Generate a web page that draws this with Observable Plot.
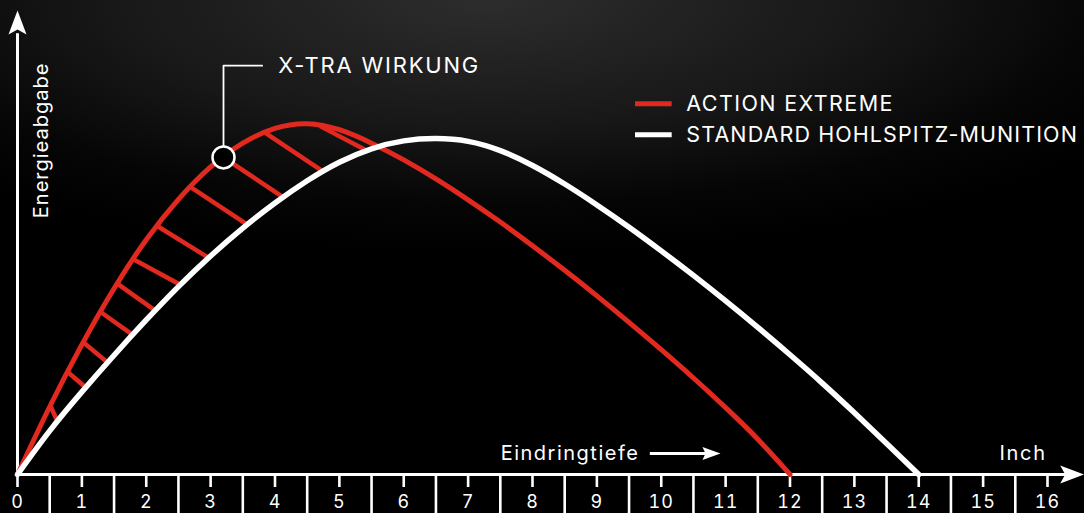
<!DOCTYPE html>
<html>
<head>
<meta charset="utf-8">
<script src="https://cdn.jsdelivr.net/npm/d3@7"></script>
<script src="https://cdn.jsdelivr.net/npm/@observablehq/plot@0.6"></script>
<style>
  html, body { margin: 0; padding: 0; background: #000; }
  #chart {
    width: 1084px; height: 513px; overflow: hidden;
    background: radial-gradient(ellipse 72% 50% at 45% 0%, #2d2d2d 0%, #171717 50%, #050505 80%, #000 100%);
  }
  #chart svg { display: block; overflow: visible; }
</style>
</head>
<body>
<div id="chart"></div>
<script>
// ---- data (penetration depth in inch, relative energy release) ----
const depthRed = [0, 0.5, 1, 1.5, 2, 2.5, 3, 3.5, 4, 4.5, 5, 5.5, 6, 6.5, 7, 7.5, 8, 8.5, 9, 9.5, 10, 10.5, 11, 11.5, 12];
const actionExtreme = [0, 14.6, 28.0, 40.1, 50.6, 59.3, 66.3, 71.4, 74.6, 75.6, 74.3, 71.4, 67.8, 63.7, 59.2, 54.4, 49.3, 44.0, 38.5, 32.8, 26.9, 20.8, 14.4, 7.6, 0];
const depthWhite = [0, 0.5, 1, 1.5, 2, 2.5, 3, 3.5, 4, 4.5, 5, 5.5, 6, 6.5, 7, 7.5, 8, 8.5, 9, 9.5, 10, 10.5, 11, 11.5, 12, 12.5, 13, 13.5, 14];
const standardHP = [0, 9.4, 17.8, 25.7, 33.3, 40.5, 47.1, 53.1, 58.5, 63.3, 67.3, 70.2, 71.9, 72.4, 71.8, 69.8, 66.6, 62.6, 58.1, 53.3, 48.2, 42.9, 37.4, 31.7, 25.8, 19.7, 13.3, 6.7, 0];

// hatching between the curves (start depth on red curve, end depth on white curve)
const hatchFrom = [0.51, 0.78, 1.02, 1.29, 1.55, 1.80, 2.17, 2.69, 3.2, 3.85, 4.70];
const hatchTo   = [0.62, 1.06, 1.40, 1.79, 2.14, 2.53, 2.97, 3.57, 4.13, 4.75, 5.43];

const tickLabels = [0, 1, 2, 3, 4, 5, 6, 7, 8, 9, 10, 11, 12, 13, 14, 15, 16];
const minorTicks = [0.5, 1.5, 2.5, 3.5, 4.5, 5.5, 6.5, 7.5, 8.5, 9.5, 10.5, 11.5, 12.5, 13.5, 14.5, 15.5];

const seriesNames = ["ACTION EXTREME", "STANDARD HOHLSPITZ-MUNITION"];
const seriesColors = ["#e2291f", "#ffffff"];
const annotationText = "X-TRA WIRKUNG";
const annotationDepth = 3.2;
const xTitle = "Eindringtiefe";
const unitText = "Inch";
const yTitle = "Energieabgabe";

// ---- helpers ----
function interp(xs, ys, x) {
  for (let i = 0; i < xs.length - 1; i++) {
    if (x >= xs[i] && x <= xs[i + 1]) {
      const t = (x - xs[i]) / (xs[i + 1] - xs[i]);
      return ys[i] + t * (ys[i + 1] - ys[i]);
    }
  }
  return 0;
}
function arrowHead(len, half, notch) {
  return {
    draw(ctx) {
      ctx.moveTo(0, 0);
      ctx.lineTo(half, len);
      ctx.lineTo(0, len - notch);
      ctx.lineTo(-half, len);
      ctx.closePath();
    }
  };
}

const redData = depthRed.map((d, i) => ({depth: d, energy: actionExtreme[i]}));
const whiteData = depthWhite.map((d, i) => ({depth: d, energy: standardHP[i]}));
const hatch = hatchFrom.map((d, i) => ({
  x1: d, y1: interp(depthRed, actionExtreme, d),
  x2: hatchTo[i], y2: interp(depthWhite, standardHP, hatchTo[i])
}));
const annY = interp(depthRed, actionExtreme, annotationDepth);
const leader = [
  {x: annotationDepth, y: annY},
  {x: annotationDepth, y: 88.1},
  {x: 3.80, y: 88.1}
];
const legend = seriesNames.map((name, i) => ({name, color: seriesColors[i], y: [79.9, 73.2][i]}));

const font = "Inter, 'Noto Sans', sans-serif";
const red = seriesColors[0];

const chart = Plot.plot({
  width: 1084,
  height: 513,
  marginLeft: 17,
  marginRight: 37,
  marginTop: 10,
  marginBottom: 39,
  style: {background: "transparent", color: "white", fontFamily: font, overflow: "visible"},
  x: {domain: [0, 16]},
  y: {domain: [0, 100], axis: null},
  marks: [
    // tick labels
    Plot.axisX(tickLabels, {tickSize: 0, tickPadding: 21, fontSize: 18, fontFamily: font, fill: "white", label: null}),
    // ticks
    Plot.ruleX(tickLabels, {x: d => d, y1: 0, y2: -2.8, stroke: "white", strokeWidth: 2.6}),
    Plot.ruleX(minorTicks, {x: d => d, y1: 0, y2: -8.6, stroke: "white", strokeWidth: 2.6}),
    // axes
    Plot.ruleX([0], {y1: 0, y2: 95, stroke: "white", strokeWidth: 3}),
    Plot.ruleY([0], {x1: 0, x2: 16.3, stroke: "white", strokeWidth: 3}),
    Plot.dot([{x: 0, y: 100}], {x: "x", y: "y", symbol: arrowHead(24, 9, 5), fill: "white", stroke: "none"}),
    Plot.dot([{x: 16.57, y: 0}], {x: "x", y: "y", symbol: arrowHead(24, 9, 5), rotate: 90, fill: "white", stroke: "none"}),
    // axis titles
    Plot.text([yTitle], {x: 0.37, y: 72, text: d => d, rotate: -90, fontSize: 20, fontFamily: font, fill: "white"}),
    Plot.text([xTitle], {x: 9.66, y: 4.5, text: d => d, textAnchor: "end", fontSize: 20, fontFamily: font, fill: "white"}),
    Plot.ruleY([4.5], {x1: 9.83, x2: 10.7, stroke: "white", strokeWidth: 3}),
    Plot.dot([{x: 10.92, y: 4.5}], {x: "x", y: "y", symbol: arrowHead(18, 6.5, 3), rotate: 90, fill: "white", stroke: "none"}),
    Plot.text([unitText], {x: 15.99, y: 4.5, text: d => d, textAnchor: "end", fontSize: 20, fontFamily: font, fill: "white"}),
    // hatching
    Plot.link(hatch, {x1: "x1", y1: "y1", x2: "x2", y2: "y2", stroke: red, strokeWidth: 4.5, strokeLinecap: "butt"}),
    // curves
    Plot.line(redData, {x: "depth", y: "energy", stroke: red, strokeWidth: 5, curve: "natural"}),
    Plot.line(whiteData, {x: "depth", y: "energy", stroke: "white", strokeWidth: 5.5, curve: "natural"}),
    // annotation
    Plot.line(leader, {x: "x", y: "y", stroke: "white", strokeWidth: 1.8, curve: "linear"}),
    Plot.dot([{x: annotationDepth, y: annY}], {x: "x", y: "y", r: 11, fill: "black", stroke: "white", strokeWidth: 2.5}),
    Plot.text([annotationText], {x: 4.05, y: 88.1, text: d => d, textAnchor: "start", fontSize: 22, fontFamily: font, fill: "white"}),
    // legend
    Plot.ruleY(legend, {y: "y", x1: 9.60, x2: 10.17, stroke: "color", strokeWidth: 5}),
    Plot.text(legend, {x: 10.39, y: "y", text: "name", textAnchor: "start", fontSize: 21.5, fontFamily: font, fill: "white"})
  ]
});

// letter spacing to match the wider typeface of the original
const spacing = new Map([
  [annotationText, 1.8], [seriesNames[0], 1.4], [seriesNames[1], 1.1],
  [xTitle, 1.5], [unitText, 1.75], [yTitle, 1]
]);
d3.select(chart).selectAll("text").each(function () {
  const t = this.textContent;
  this.style.letterSpacing = (spacing.has(t) ? spacing.get(t) : 1) + "px";
});
document.getElementById("chart").appendChild(chart);
</script>
</body>
</html>
